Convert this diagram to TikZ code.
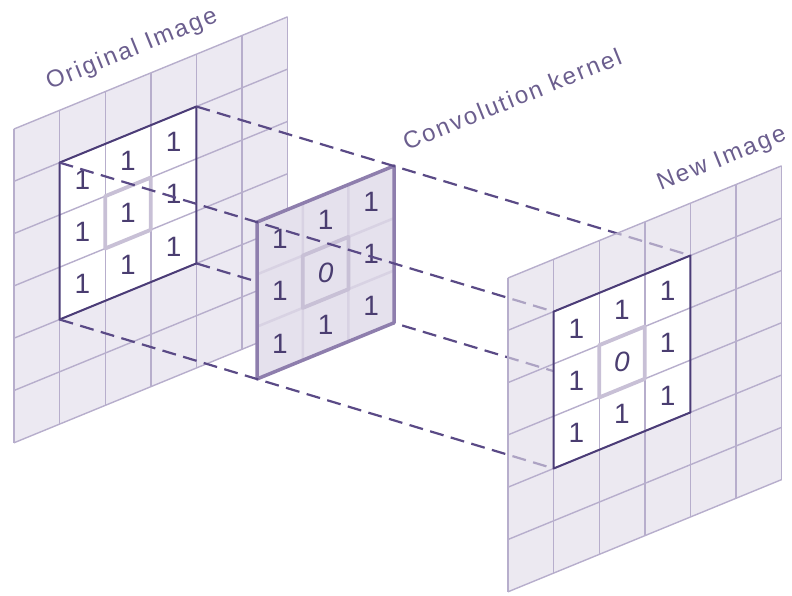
\documentclass[tikz,border=0pt]{standalone}
\usepackage{fontspec}
\setmainfont{Liberation Sans}
\definecolor{planefill}{HTML}{ECE9F2}
\definecolor{newfill}{HTML}{E0DBE9}
\definecolor{gridline}{HTML}{B7AECC}
\definecolor{frame}{HTML}{4B3C77}
\definecolor{dashc}{HTML}{5A4A86}
\definecolor{centre}{HTML}{C8C0D6}
\definecolor{kfill}{HTML}{E5E1ED}
\definecolor{kline}{HTML}{D8D2E3}
\definecolor{kedge}{HTML}{8E7EAD}
\definecolor{digit}{HTML}{4A3D70}
\definecolor{labelc}{HTML}{6B5E8E}
\tikzset{
  oblique/.style={x={(45.6pt,18.7pt)}, y={(0pt,-52.3pt)}},
  gridln/.style={draw=gridline, line width=1.4pt},
  winframe/.style={draw=frame, line width=2pt, line join=round},
  midcell/.style={draw=centre, line width=3.8pt, line join=round},
  kinner/.style={draw=kline, line width=2.5pt},
  kborder/.style={draw=kedge, line width=3.5pt, line join=round},
  conn/.style={draw=dashc, line width=2.2pt, dash pattern=on 14pt off 7.5pt},
  digitnum/.style={text=digit, font=\fontsize{28}{28}\selectfont, inner sep=0pt},
  planelabel/.style={text=labelc, rotate=22, inner sep=0pt,
    font=\fontsize{24}{24}\selectfont\addfontfeatures{LetterSpace=9}},
}
\begin{document}
\begin{tikzpicture}[x=1pt,y=-1pt]
\useasboundingbox (0,0) rectangle (792,595);

% corner points of the new image window, needed before it is drawn
\begin{scope}[shift={(508pt,-278pt)}, oblique]
  \coordinate (nTL) at (1,1); \coordinate (nTR) at (4,1);
  \coordinate (nBL) at (1,4); \coordinate (nBR) at (4,4);
\end{scope}

% original image: 6x6 grid with a 3x3 window
\begin{scope}[shift={(14pt,-129pt)}, oblique]
  \fill[planefill] (0,0) -- (6,0) -- (6,6) -- (0,6) -- cycle;
  \fill[white] (1,1) -- (4,1) -- (4,4) -- (1,4) -- cycle;
  \foreach \k in {0,...,6} {
    \draw[gridln] (\k,0) -- (\k,6);
    \draw[gridln] (0,\k) -- (6,\k);
  }
  \draw[midcell] (2,2) -- (3,2) -- (3,3) -- (2,3) -- cycle;
  \draw[winframe] (1,1) -- (4,1) -- (4,4) -- (1,4) -- cycle;
  \foreach \c in {1,2,3} \foreach \r in {1,2,3}
    \node[digitnum] (o\c\r) at (\c+0.5,\r+0.5) {1};
  \coordinate (oTL) at (1,1); \coordinate (oTR) at (4,1);
  \coordinate (oBL) at (1,4); \coordinate (oBR) at (4,4);
\end{scope}

% this projection line passes behind the kernel
\draw[conn] (oBR) -- (nBR);

% convolution kernel
\begin{scope}[shift={(257.2pt,-222pt)}, oblique]
  \fill[kfill] (0,0) -- (3,0) -- (3,3) -- (0,3) -- cycle;
  \draw[kinner] (1,0) -- (1,3) (2,0) -- (2,3) (0,1) -- (3,1) (0,2) -- (3,2);
  \draw[midcell] (1,1) -- (2,1) -- (2,2) -- (1,2) -- cycle;
  \foreach \c/\r/\v in {0/0/1,1/0/1,2/0/1,0/1/1,2/1/1,0/2/1,1/2/1,2/2/1}
    \node[digitnum] (k\c\r) at (\c+0.5,\r+0.5) {\v};
  \node[digitnum, font=\fontsize{28}{28}\selectfont\itshape] (k11) at (1.5,1.5) {0};
  \draw[kborder] (0,0) -- (3,0) -- (3,3) -- (0,3) -- cycle;
  \coordinate (kTL) at (0,0); \coordinate (kTR) at (3,0);
  \coordinate (kBL) at (0,3); \coordinate (kBR) at (3,3);
\end{scope}

% remaining projection lines
\draw[conn] (oTL) -- (nTL);
\draw[conn] (oTR) -- (nTR);
\draw[conn] (oBL) -- (nBL);

% new image: translucent plane, so the lines behind it show faintly
\begin{scope}[shift={(508pt,-278pt)}, oblique]
  \fill[newfill, fill opacity=0.62] (0,0) -- (6,0) -- (6,6) -- (0,6) -- cycle;
  \fill[white] (1,1) -- (4,1) -- (4,4) -- (1,4) -- cycle;
  \foreach \k in {0,...,6} {
    \draw[gridln] (\k,0) -- (\k,6);
    \draw[gridln] (0,\k) -- (6,\k);
  }
  \draw[midcell] (2,2) -- (3,2) -- (3,3) -- (2,3) -- cycle;
  \draw[winframe] (1,1) -- (4,1) -- (4,4) -- (1,4) -- cycle;
  \foreach \c/\r in {1/1,2/1,3/1,1/2,3/2,1/3,2/3,3/3}
    \node[digitnum] (n\c\r) at (\c+0.5,\r+0.5) {1};
  \node[digitnum, font=\fontsize{28}{28}\selectfont\itshape] (n22) at (2.5,2.5) {0};
\end{scope}

% plane titles
\node[planelabel] (origtitle) at (132,50) {Original Image};
\node[planelabel] (kerneltitle) at (512,99) {Convolution kernel};
\node[planelabel] (newtitle) at (722,160) {New Image};
\end{tikzpicture}
\end{document}
